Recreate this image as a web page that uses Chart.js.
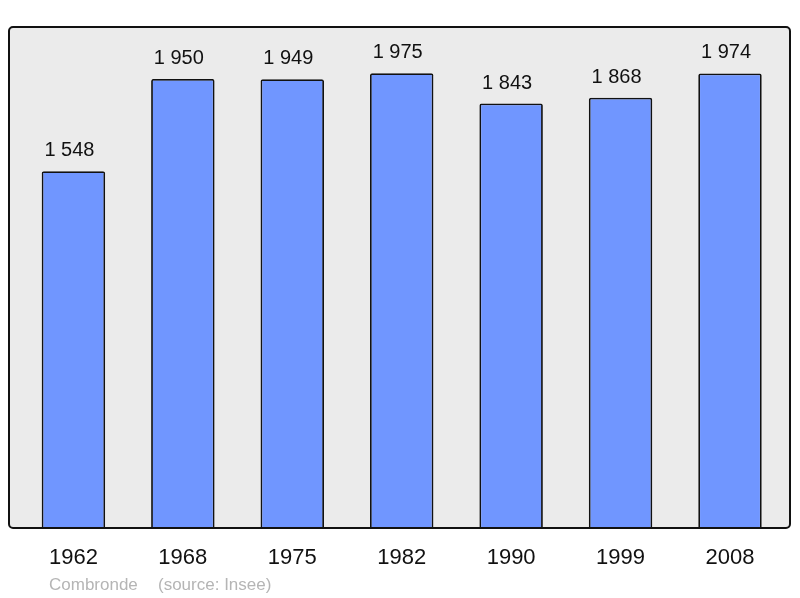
<!DOCTYPE html>
<html>
<head>
<meta charset="utf-8">
<script src="https://cdn.jsdelivr.net/npm/chart.js@4.4.1/dist/chart.umd.min.js"></script>
<style>
  html, body { margin: 0; padding: 0; background: #fff; }
  #wrap { width: 800px; height: 598px; }
</style>
</head>
<body>
<div id="wrap"><canvas id="popChart" width="800" height="598"></canvas></div>
<script>
// données de population
var years = ['1962', '1968', '1975', '1982', '1990', '1999', '2008'];
var population = [1548, 1950, 1949, 1975, 1843, 1868, 1974];
var commune = 'Combronde';
var source = '(source: Insee)';

function fmt(n) {
    return String(n).replace(/\B(?=(\d{3})+(?!\d))/g, ' ');
}

// fond gris arrondi derrière les barres
var panelPlugin = {
    id: 'panel',
    beforeDraw: function(chart) {
        var c = chart.ctx;
        c.save();
        c.beginPath();
        c.roundRect(9, 27, 781, 501, 4);
        c.fillStyle = '#ebebeb';
        c.fill();
        c.restore();
    },
    afterDatasetsDraw: function(chart) {
        var c = chart.ctx;
        var meta = chart.getDatasetMeta(0);
        c.save();
        // bordure du cadre par-dessus les barres
        c.beginPath();
        c.roundRect(9, 27, 781, 501, 4);
        c.lineWidth = 2;
        c.strokeStyle = '#111';
        c.stroke();
        c.font = '20px "Liberation Sans", Arial, sans-serif';
        c.fillStyle = '#111';
        c.textAlign = 'center';
        c.textBaseline = 'alphabetic';
        meta.data.forEach(function(bar, i) {
            c.fillText(fmt(population[i]), bar.x - 4, bar.y - 15);
        });
        c.restore();
    },
    afterDraw: function(chart) {
        var c = chart.ctx;
        c.save();
        c.font = '17px "Liberation Sans", Arial, sans-serif';
        c.fillStyle = '#b5b5b5';
        c.textAlign = 'left';
        c.textBaseline = 'alphabetic';
        c.fillText(commune, 49, 590);
        c.fillText(source, 158, 590);
        c.restore();
    }
};

var ctx = document.getElementById('popChart').getContext('2d');
var popChart = new Chart(ctx, {
    type: 'bar',
    data: {
        labels: years,
        datasets: [{
            data: population,
            backgroundColor: '#7096ff',
            borderColor: '#111',
            borderWidth: 1.8,
            borderRadius: 2,
            categoryPercentage: 1,
            barPercentage: 0.58
        }]
    },
    options: {
        responsive: false,
        animation: false,
        layout: {
            padding: { left: 18.7, right: 15.3, top: 27, bottom: 8.6 }
        },
        plugins: {
            legend: { display: false },
            tooltip: { enabled: false }
        },
        scales: {
            y: {
                display: false,
                min: 0,
                max: 2176
            },
            x: {
                grid: { display: false, drawTicks: false },
                border: { display: false },
                ticks: {
                    padding: 18,
                    color: '#111',
                    font: { family: '"Liberation Sans", Arial, sans-serif', size: 22 }
                }
            }
        }
    },
    plugins: [panelPlugin]
});
</script>
</body>
</html>
